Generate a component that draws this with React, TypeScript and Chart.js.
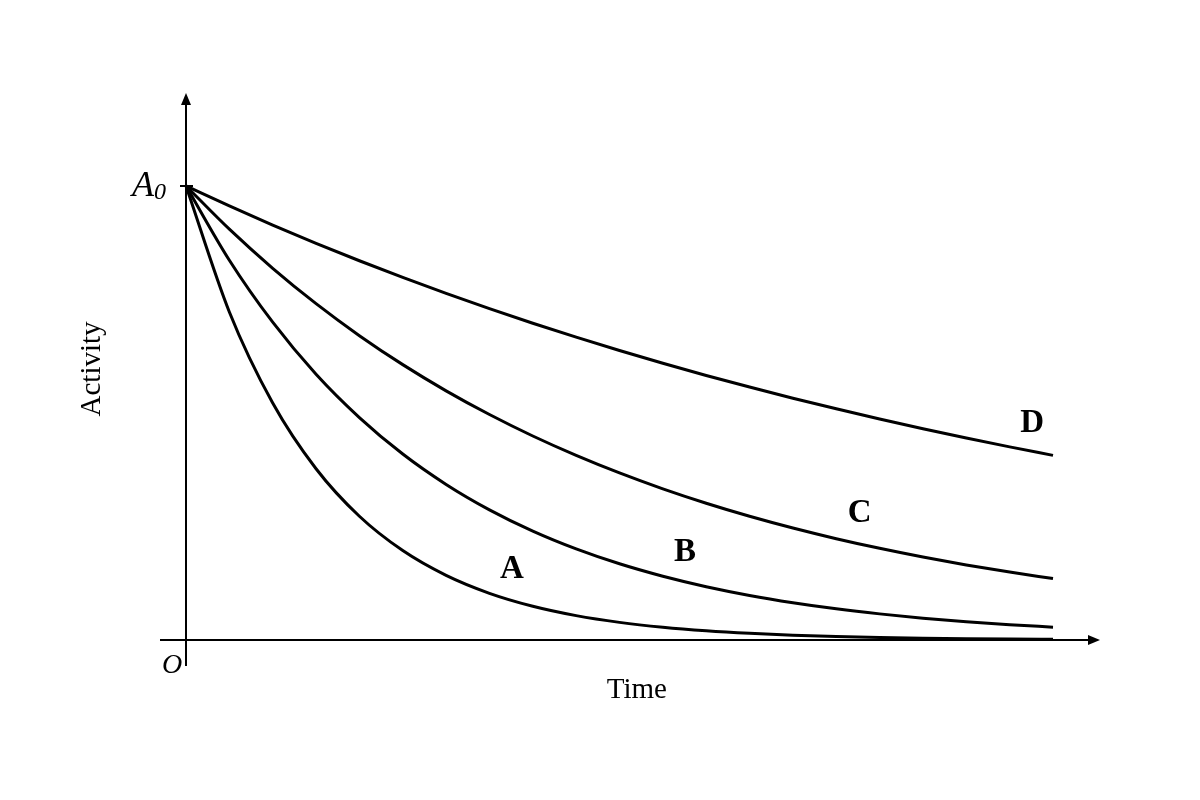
import React, { useEffect, useRef } from "react";
import { Chart, registerables } from "chart.js";

Chart.register(...registerables);

const TIME = [0, 0.05, 0.1, 0.15, 0.2, 0.25, 0.3, 0.35, 0.4, 0.45, 0.5, 0.55, 0.6, 0.65, 0.7, 0.75, 0.8, 0.85, 0.9, 0.95, 1.0];
const SERIES_A = [1.0, 0.7225, 0.522, 0.3772, 0.2725, 0.1969, 0.1423, 0.1028, 0.0743, 0.0537, 0.0388, 0.028, 0.0202, 0.0146, 0.0106, 0.0076, 0.0055, 0.004, 0.0029, 0.0021, 0.0015];
const SERIES_B = [1.0, 0.8365, 0.7, 0.5854, 0.49, 0.4096, 0.3427, 0.2867, 0.2398, 0.2006, 0.1678, 0.1404, 0.1174, 0.0982, 0.0822, 0.0687, 0.0575, 0.0481, 0.0402, 0.0337, 0.0282];
const SERIES_C = [1.0, 0.9048, 0.8187, 0.7408, 0.6703, 0.6065, 0.5488, 0.4966, 0.4493, 0.4066, 0.3679, 0.3329, 0.3012, 0.2725, 0.2466, 0.2231, 0.2019, 0.1827, 0.1653, 0.1496, 0.1353];
const SERIES_D = [1.0, 0.956, 0.9139, 0.8737, 0.8353, 0.7985, 0.7634, 0.7298, 0.6977, 0.667, 0.6376, 0.6096, 0.5827, 0.5571, 0.5326, 0.5092, 0.4868, 0.4653, 0.4449, 0.4253, 0.4066];
const SERIES_NAMES = ["A", "B", "C", "D"];
// label anchor points (time, activity) for the curve names
const LABEL_T = [0.376, 0.5755, 0.777, 0.976];
const LABEL_V = [0.156, 0.192, 0.278, 0.478];

const X_TITLE = "Time";
const Y_TITLE = "Activity";

const SERIF = '"Liberation Serif", "Times New Roman", serif';

const axesPlugin = {
  id: "axesPlugin",
  beforeDatasetsDraw(chart: any) {
    const ctx = chart.ctx;
    const xs = chart.scales.x;
    const ys = chart.scales.y;
    const area = chart.chartArea;
    const x0 = xs.getPixelForValue(0);
    const y0 = ys.getPixelForValue(0);
    const yA0 = ys.getPixelForValue(1);
    ctx.save();
    ctx.strokeStyle = "#000";
    ctx.fillStyle = "#000";
    ctx.lineWidth = 2;
    // y axis
    ctx.beginPath();
    ctx.moveTo(x0, area.bottom);
    ctx.lineTo(x0, area.top + 8);
    ctx.stroke();
    ctx.beginPath();
    ctx.moveTo(x0, area.top);
    ctx.lineTo(x0 - 5, area.top + 12);
    ctx.lineTo(x0 + 5, area.top + 12);
    ctx.closePath();
    ctx.fill();
    // x axis
    ctx.beginPath();
    ctx.moveTo(area.left, y0);
    ctx.lineTo(area.right - 8, y0);
    ctx.stroke();
    ctx.beginPath();
    ctx.moveTo(area.right, y0);
    ctx.lineTo(area.right - 12, y0 - 5);
    ctx.lineTo(area.right - 12, y0 + 5);
    ctx.closePath();
    ctx.fill();
    // A0 tick
    ctx.beginPath();
    ctx.moveTo(x0 - 6, yA0);
    ctx.lineTo(x0 + 7, yA0);
    ctx.stroke();
    ctx.restore();
  },
  afterDatasetsDraw(chart: any) {
    const ctx = chart.ctx;
    const xs = chart.scales.x;
    const ys = chart.scales.y;
    const x0 = xs.getPixelForValue(0);
    const y0 = ys.getPixelForValue(0);
    const yA0 = ys.getPixelForValue(1);
    ctx.save();
    ctx.fillStyle = "#000";
    // A0 label
    ctx.textBaseline = "alphabetic";
    ctx.textAlign = "left";
    ctx.font = `italic 36px ${SERIF}`;
    ctx.fillText("A", x0 - 54, yA0 + 10);
    ctx.font = `italic 24px ${SERIF}`;
    ctx.fillText("0", x0 - 32, yA0 + 13);
    // origin label
    ctx.font = `italic 28px ${SERIF}`;
    ctx.fillText("O", x0 - 24, y0 + 33);
    // axis titles
    ctx.font = `29px ${SERIF}`;
    ctx.textAlign = "center";
    ctx.textBaseline = "middle";
    ctx.fillText(X_TITLE, xs.getPixelForValue(0.52), y0 + 50);
    ctx.save();
    ctx.translate(x0 - 94, ys.getPixelForValue(0.597));
    ctx.rotate(-Math.PI / 2);
    ctx.fillText(Y_TITLE, 0, 0);
    ctx.restore();
    // curve names
    ctx.font = `bold 33px ${SERIF}`;
    SERIES_NAMES.forEach((n, i) => {
      ctx.fillText(n, xs.getPixelForValue(LABEL_T[i]), ys.getPixelForValue(LABEL_V[i]));
    });
    ctx.restore();
  },
};

export default function App() {
  const ref = useRef<HTMLCanvasElement | null>(null);
  useEffect(() => {
    if (!ref.current) return;
    const mk = (vals: number[], name: string) => ({
      label: name,
      data: TIME.map((t, i) => ({ x: t, y: vals[i] })),
      borderColor: "#000",
      backgroundColor: "#000",
      borderWidth: 3,
      pointRadius: 0,
      cubicInterpolationMode: "monotone" as const,
      fill: false,
      clip: false as any,
    });
    const chart = new Chart(ref.current, {
      type: "line",
      data: {
        datasets: [
          mk(SERIES_A, "A"),
          mk(SERIES_B, "B"),
          mk(SERIES_C, "C"),
          mk(SERIES_D, "D"),
        ],
      },
      options: {
        animation: false,
        responsive: false,
        maintainAspectRatio: false,
        layout: { padding: { left: 160, right: 100, top: 93, bottom: 134 } },
        plugins: { legend: { display: false }, tooltip: { enabled: false } },
        scales: {
          x: { type: "linear", min: -0.02999, max: 1.0542, display: false },
          y: { type: "linear", min: -0.0573, max: 1.2048, display: false },
        },
      },
      plugins: [axesPlugin],
    });
    return () => chart.destroy();
  }, []);
  return (
    <div style={{ position: "absolute", left: 0, top: 0, width: 1200, height: 800, background: "#fff" }}>
      <canvas ref={ref} width={1200} height={800} style={{ width: 1200, height: 800 }} />
    </div>
  );
}
